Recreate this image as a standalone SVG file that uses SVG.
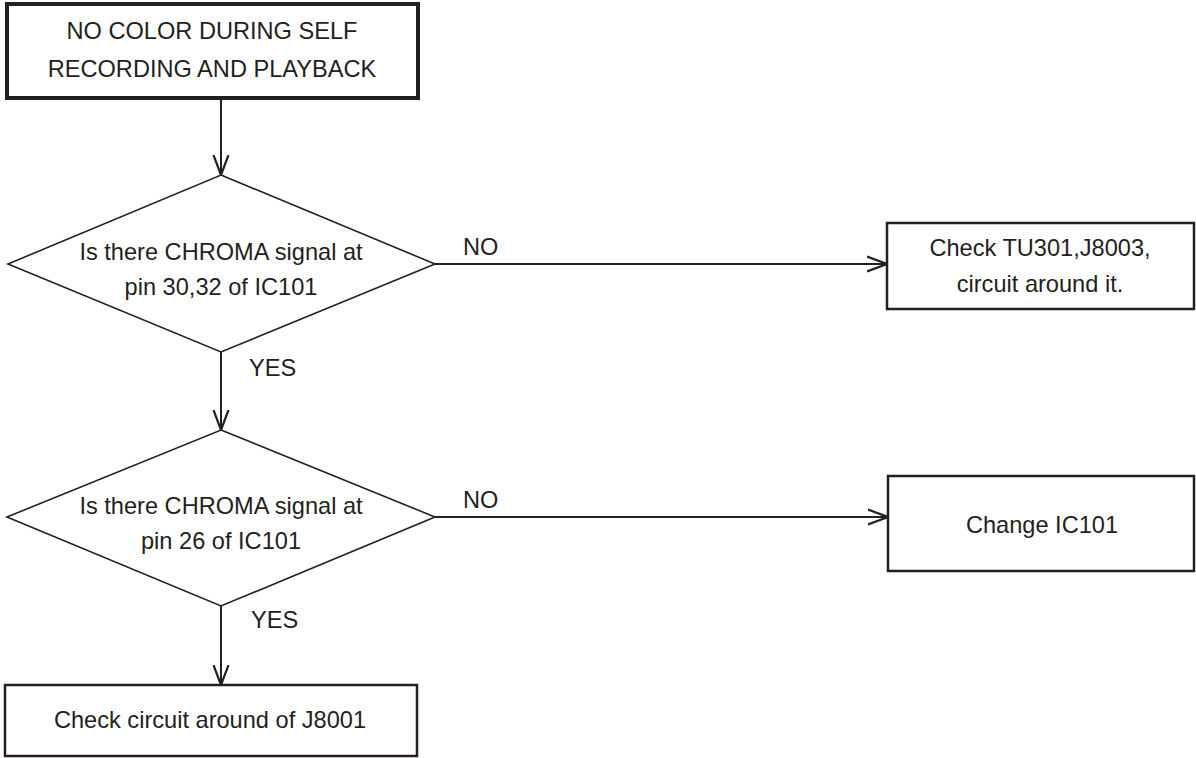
<svg xmlns="http://www.w3.org/2000/svg" width="1196" height="758" viewBox="0 0 1196 758">
<defs>
<style>
.t{font-family:"Liberation Sans",Arial,sans-serif;font-size:23.6px;fill:#231f20;text-anchor:middle}
.l{font-family:"Liberation Sans",Arial,sans-serif;font-size:23.6px;fill:#231f20}
.box{fill:#fff;stroke:#231f20;stroke-width:2.5}
.dia{fill:#fff;stroke:#231f20;stroke-width:1.6}
.c{fill:none;stroke:#231f20;stroke-width:2;marker-end:url(#ah)}
</style>
<marker id="ah" markerUnits="userSpaceOnUse" viewBox="-20 -9 22 18" refX="0" refY="0" markerWidth="22" markerHeight="18" orient="auto">
<path d="M-20,-7.5 L0,0 L-20,7.5" fill="none" stroke="#231f20" stroke-width="2.2"/>
</marker>
</defs>
<rect width="1196" height="758" fill="#fff"/>
<g id="connectors">
<line class="c" x1="221" y1="100" x2="221" y2="175"/>
<line class="c" x1="221" y1="352" x2="221" y2="430"/>
<line class="c" x1="221" y1="606" x2="221" y2="685"/>
<line class="c" x1="435" y1="264" x2="887" y2="264"/>
<line class="c" x1="435" y1="517" x2="888" y2="517"/>
<text class="l" x="249" y="376">YES</text>
<text class="l" x="251" y="628">YES</text>
<text class="l" x="463" y="255">NO</text>
<text class="l" x="463" y="508">NO</text>
</g>
<g id="start">
<rect x="7" y="4" width="411" height="94" fill="#fff" stroke="#231f20" stroke-width="4"/>
<text class="t" x="212" y="39">NO COLOR DURING SELF</text>
<text class="t" x="212" y="77">RECORDING AND PLAYBACK</text>
</g>
<g id="decision1">
<polygon class="dia" points="221,175 435,264 221,352 8,264"/>
<text class="t" x="221" y="260">Is there CHROMA signal at</text>
<text class="t" x="221" y="295">pin 30,32 of IC101</text>
</g>
<g id="check-tu301">
<rect class="box" x="887" y="223" width="307" height="86"/>
<text class="t" x="1040" y="256">Check TU301,J8003,</text>
<text class="t" x="1040" y="292">circuit around it.</text>
</g>
<g id="decision2">
<polygon class="dia" points="221,430 435,517 221,606 7,517"/>
<text class="t" x="221" y="514">Is there CHROMA signal at</text>
<text class="t" x="221" y="549">pin 26 of IC101</text>
</g>
<g id="change-ic101">
<rect class="box" x="888" y="476" width="306" height="95"/>
<text class="t" x="1042" y="533">Change IC101</text>
</g>
<g id="check-j8001">
<rect class="box" x="5" y="685" width="412" height="71"/>
<text class="t" x="210" y="728">Check circuit around of J8001</text>
</g>
</svg>
